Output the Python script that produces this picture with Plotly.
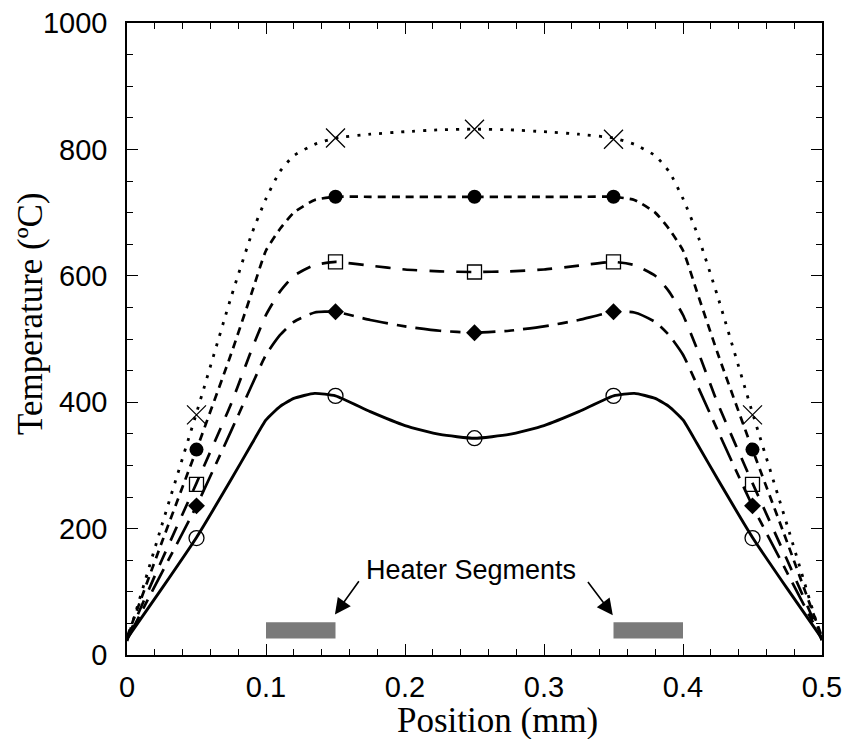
import plotly.graph_objects as go

# ---- data ----
position = [0, 0.025, 0.05, 0.075, 0.09, 0.10, 0.11, 0.12, 0.135, 0.15, 0.175, 0.20, 0.225, 0.25,
            0.275, 0.30, 0.325, 0.35, 0.365, 0.38, 0.39, 0.40, 0.41, 0.425, 0.45, 0.475, 0.5]

temp_cross = [22, 205, 383, 567, 668, 722, 765, 790, 808, 818, 824, 828, 831, 832,
              831, 828, 824, 818, 808, 790, 765, 722, 668, 567, 383, 205, 22]
temp_fcircle = [28, 178, 325, 477, 575, 640, 674, 700, 720, 725, 725, 725, 725, 725,
                725, 725, 725, 725, 720, 700, 674, 640, 575, 477, 325, 178, 28]
temp_square = [25, 150, 272, 398, 485, 538, 575, 600, 617, 622, 616, 610, 607, 606,
               607, 610, 616, 622, 617, 600, 575, 538, 485, 398, 272, 150, 25]
temp_diamond = [24, 130, 236, 355, 428, 475, 506, 527, 542, 543, 530, 520, 513, 510,
                513, 520, 530, 543, 542, 527, 506, 475, 428, 355, 236, 130, 24]
temp_ocircle = [26, 105, 186, 278, 335, 372, 393, 406, 414, 410, 385, 363, 349, 343,
                349, 363, 385, 410, 414, 406, 393, 372, 335, 278, 186, 105, 26]

marker_pos = [0.05, 0.15, 0.25, 0.35, 0.45]
mk_cross = [380, 818, 832, 816, 380]
mk_fcircle = [325, 725, 725, 725, 325]
mk_square = [270, 622, 606, 622, 270]
mk_diamond = [236, 543, 510, 543, 236]
mk_ocircle = [185, 410, 343, 410, 185]

heater_start = [0.10, 0.35]
heater_end = [0.15, 0.40]
heater_bottom = 26
heater_top = 52

x_ticks = [0, 0.1, 0.2, 0.3, 0.4, 0.5]
x_tick_labels = ["0", "0.1", "0.2", "0.3", "0.4", "0.5"]
y_ticks = [0, 200, 400, 600, 800, 1000]
y_tick_labels = ["0", "200", "400", "600", "800", "1000"]

SANS = "Liberation Sans, Arial, Helvetica, sans-serif"
SERIF = "Liberation Serif, Times New Roman, serif"

W, H = 846, 739
L, R, T, B = 127, 24, 23, 84

# ---- figure ----
fig = go.Figure()

series = [
    (temp_cross, mk_cross, "3px,8px", 2.8,
     dict(symbol="x-thin-open", size=19, color="black", line=dict(color="black", width=1.3))),
    (temp_fcircle, mk_fcircle, "8px,6px", 2.7,
     dict(symbol="circle", size=14, color="black")),
    (temp_square, mk_square, "15px,12px", 2.7,
     dict(symbol="square-open", size=14, color="black", line=dict(color="black", width=1.3))),
    (temp_diamond, mk_diamond, "26px,9px,10px,9px", 2.7,
     dict(symbol="diamond", size=13, color="black")),
    (temp_ocircle, mk_ocircle, "solid", 2.9,
     dict(symbol="circle-open", size=15, color="black", line=dict(color="black", width=1.3))),
]

for ys, mks, dash, w, mk in series:
    fig.add_trace(go.Scatter(x=position, y=ys, mode="lines",
                             line=dict(color="black", width=w, dash=dash, shape="spline", smoothing=0.5),
                             showlegend=False, hoverinfo="skip"))
for ys, mks, dash, w, mk in series:
    fig.add_trace(go.Scatter(x=marker_pos, y=mks, mode="markers", marker=mk,
                             showlegend=False, hoverinfo="skip"))

for x0, x1 in zip(heater_start, heater_end):
    fig.add_shape(type="rect", xref="x", yref="y", x0=x0, x1=x1, y0=heater_bottom, y1=heater_top,
                  fillcolor="#7a7a7a", line=dict(width=0), layer="above")

fig.add_annotation(x=0.2475, y=134, xref="x", yref="y", text="Heater Segments", showarrow=False,
                   font=dict(family=SANS, size=27, color="black"))
fig.add_annotation(x=0.1496, y=64, ax=0.1676, ay=119, xref="x", yref="y", axref="x", ayref="y",
                   text="", showarrow=True, arrowhead=2, arrowsize=2, arrowwidth=1.6, arrowcolor="black")
fig.add_annotation(x=0.3495, y=63, ax=0.3308, ay=118, xref="x", yref="y", axref="x", ayref="y",
                   text="", showarrow=True, arrowhead=2, arrowsize=2, arrowwidth=1.6, arrowcolor="black")

# axis titles placed at measured pixel centres (converted to paper coordinates)
pw, ph = W - L - R, H - T - B
fig.add_annotation(x=(497 - L) / pw, y=1 - (721 - T) / ph, xref="paper", yref="paper",
                   xanchor="center", yanchor="middle", text="Position (mm)", showarrow=False,
                   font=dict(family=SERIF, size=35, color="black"))
fig.add_annotation(x=(30 - L) / pw, y=1 - (314 - T) / ph, xref="paper", yref="paper",
                   xanchor="center", yanchor="middle", text="Temperature (ºC)", showarrow=False,
                   textangle=-90, font=dict(family=SERIF, size=35, color="black"))

axis_common = dict(showline=True, linecolor="black", linewidth=1.6, mirror="allticks",
                   ticks="inside", ticklen=11, tickwidth=1.4, tickcolor="black",
                   showgrid=False, zeroline=False, automargin=False,
                   tickfont=dict(family=SANS, size=29, color="black"))

fig.update_layout(
    width=W, height=H,
    margin=dict(l=L, r=R, t=T, b=B, autoexpand=False),
    paper_bgcolor="white", plot_bgcolor="white",
    xaxis=dict(range=[0, 0.5], tickvals=x_ticks, ticktext=x_tick_labels,
               minor=dict(dtick=0.02, ticks="inside", ticklen=6, tickwidth=1.2, tickcolor="black"),
               ticklabelstandoff=5,
               **axis_common),
    yaxis=dict(range=[0, 1000], tickvals=y_ticks, ticktext=y_tick_labels,
               minor=dict(dtick=50, ticks="inside", ticklen=6, tickwidth=1.2, tickcolor="black"),
               ticklabelstandoff=12,
               **axis_common),
)

fig.write_html("out.html", config={"displayModeBar": False},
               post_script="document.body.style.margin='0';document.body.style.padding='0';")
